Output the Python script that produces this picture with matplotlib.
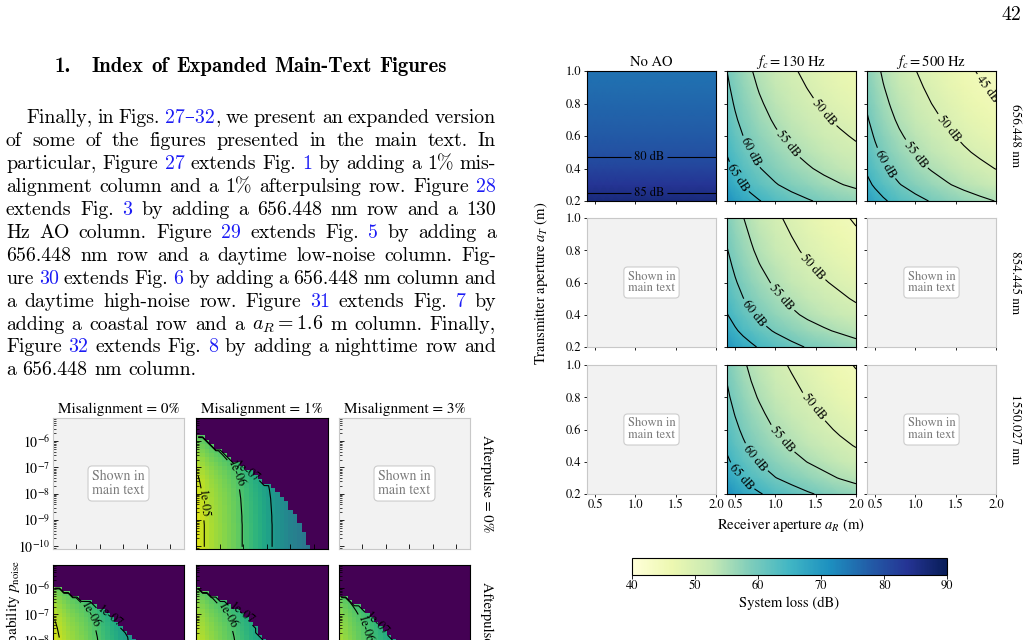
import re

import matplotlib

matplotlib.use("Agg")
import matplotlib.pyplot as plt
import numpy as np
from matplotlib.cm import ScalarMappable
from matplotlib.colors import Normalize
from matplotlib.ticker import FixedLocator, FuncFormatter, NullFormatter

W, H = 1028, 640

# ---------------- page text ----------------
heading_num = "1."
heading = "Index of Expanded Main-Text Figures"
page_number = "42"
# words in {} are blue cross-references
body_lines = [
    "Finally, in Figs. {27–32}, we present an expanded version",
    "of some of the figures presented in the main text. In",
    "particular, Figure {27} extends Fig. {1} by adding a 1% mis-",
    "alignment column and a 1% afterpulsing row. Figure {28}",
    "extends Fig. {3} by adding a 656.448 nm row and a 130",
    "Hz AO column. Figure {29} extends Fig. {5} by adding a",
    "656.448 nm row and a daytime low-noise column. Fig-",
    "ure {30} extends Fig. {6} by adding a 656.448 nm column and",
    "a daytime high-noise row. Figure {31} extends Fig. {7} by",
    "adding a coastal row and a $a_R=1.6$ m column. Finally,",
    "Figure {32} extends Fig. {8} by adding a nighttime row and",
    "a 656.448 nm column.",
]

# ---------------- right figure: system loss (dB) ----------------
a_r = [0.4, 0.5, 0.6, 0.7, 0.8, 1.0, 1.2, 1.4, 1.6, 1.8, 2.0]
a_t = [0.2, 0.3, 0.4, 0.5, 0.6, 0.7, 0.8, 0.9, 1.0]

# loss along a_R at a_T = 1.0
loss_656_130 = [60.0, 58.1, 56.5, 55.2, 54.0, 52.1, 50.5, 49.2, 48.0, 47.0, 46.1]
loss_656_500 = [58.0, 56.1, 54.5, 53.2, 52.0, 50.1, 48.5, 47.1, 45.8, 44.7, 43.7]
loss_854_130 = [58.6, 56.7, 55.1, 53.8, 52.6, 50.7, 49.1, 47.7, 46.6, 45.6, 44.6]
loss_1550_130 = [59.1, 57.2, 55.6, 54.2, 53.1, 51.1, 49.6, 48.2, 47.0, 45.8, 44.8]
# extra loss along a_T (relative to a_T = 1.0)
extra_656 = [11.2, 8.2, 6.2, 4.7, 3.5, 2.4, 1.5, 0.7, 0.0]
extra_854 = [12.0, 8.9, 6.6, 5.0, 3.7, 2.6, 1.6, 0.8, 0.0]
extra_1550 = [12.3, 9.0, 6.7, 5.0, 3.7, 2.6, 1.6, 0.8, 0.0]
# without AO the loss only changes with a_T
loss_656_noao = [86.3, 83.6, 81.3, 79.4, 78.2, 77.2, 76.4, 75.7, 75.0]

col_titles = ["No AO", "$f_c = 130$ Hz", "$f_c = 500$ Hz"]
row_titles = ["656.448 nm", "854.445 nm", "1550.027 nm"]

# ---------------- left figure: log10 key rate ----------------
# per distance column: highest log10 p_noise that still gives a key
edge_m1_a0 = [-5.75, -5.86, -5.97, -6.09, -6.23, -6.34, -6.49, -6.60, -6.71, -6.83,
              -6.94, -7.05, -7.16, -7.27, -7.38, -7.53, -7.68, -7.83, -7.99, -8.14,
              -8.32, -8.54, -8.77, -9.03, -9.36, -9.90, -11, -11, -11, -11]
edge_m0_a1 = [-5.93, -6.00, -6.07, -6.14, -6.21, -6.29, -6.37, -6.45, -6.53, -6.63,
              -6.74, -6.86, -6.98, -7.11, -7.25, -7.40, -7.58, -7.78, -8.00, -8.25,
              -8.55, -8.90, -9.30, -9.80, -11, -11, -11, -11, -11, -11]
edge_m1_a1 = [-5.97, -6.05, -6.13, -6.22, -6.31, -6.40, -6.49, -6.60, -6.72, -6.85,
              -7.00, -7.15, -7.32, -7.50, -7.70, -7.92, -8.15, -8.40, -8.70, -9.00,
              -9.35, -9.75, -11, -11, -11, -11, -11, -11, -11, -11]
edge_m3_a1 = [-6.23, -6.33, -6.44, -6.56, -6.68, -6.80, -6.93, -7.07, -7.22, -7.38,
              -7.55, -7.73, -7.93, -8.15, -8.40, -8.70, -9.00, -9.40, -9.80, -11,
              -11, -11, -11, -11, -11, -11, -11, -11, -11, -11]
# log10 key rate per column at the lowest p_noise
rate_m1_a0 = [-4.80, -4.95, -5.08, -5.20, -5.30, -5.40, -5.50, -5.60, -5.72, -5.85,
              -6.00, -6.15, -6.28, -6.42, -6.56, -6.72, -6.88, -7.03, -7.17, -7.30,
              -7.42, -7.53, -7.63, -7.72, -7.80, -7.88, -7.95, -8.00, -8.05, -8.10]
rate_m0_a1 = [-4.78, -4.92, -5.05, -5.17, -5.28, -5.38, -5.48, -5.58, -5.70, -5.82,
              -5.96, -6.10, -6.24, -6.38, -6.52, -6.67, -6.82, -6.97, -7.11, -7.24,
              -7.36, -7.47, -7.57, -7.66, -7.74, -7.82, -7.90, -7.96, -8.02, -8.08]
rate_m1_a1 = [-4.95, -5.09, -5.22, -5.34, -5.45, -5.55, -5.66, -5.77, -5.89, -6.02,
              -6.16, -6.30, -6.44, -6.58, -6.72, -6.86, -7.00, -7.13, -7.25, -7.36,
              -7.46, -7.55, -7.63, -7.70, -7.77, -7.83, -7.89, -7.94, -7.99, -8.04]
rate_m3_a1 = [-5.20, -5.33, -5.46, -5.58, -5.70, -5.82, -5.94, -6.06, -6.19, -6.32,
              -6.46, -6.60, -6.74, -6.88, -7.01, -7.13, -7.24, -7.34, -7.43, -7.51,
              -7.58, -7.64, -7.70, -7.75, -7.80, -7.85, -7.90, -7.94, -7.98, -8.02]
# drop of log10 key rate going up the p_noise rows
rate_drop = [0, 0, 0, 0, 0, 0, -0.01, -0.01, -0.02, -0.03, -0.04, -0.05, -0.07, -0.09,
             -0.12, -0.15, -0.19, -0.24, -0.30, -0.37, -0.45, -0.54, -0.64, -0.75,
             -0.87, -1.00, -1.15, -1.30, -1.50, -1.70]

mis_titles = ["Misalignment = 0%", "Misalignment = 1%", "Misalignment = 3%"]
after_titles = ["Afterpulse = 0%", "Afterpulse = 1%"]

plt.rcParams["font.family"] = ["STIXGeneral", "DejaVu Serif"]
plt.rcParams["mathtext.fontset"] = "stix"

fig = plt.figure(figsize=(W / 100, H / 100), dpi=100)
renderer = fig.canvas.get_renderer()


def fig_xy(x, y):
    return x / W, 1 - y / H


def px_axes(x0, y0, x1, y1):
    return fig.add_axes([x0 / W, 1 - y1 / H, (x1 - x0) / W, (y1 - y0) / H])


# ---------------- text column ----------------
BODY = ["cmr10", "DejaVu Serif"]
BOLD = ["cmb10", "DejaVu Serif"]
LINK = "#1c1cf5"


def parse_word(word):
    parts = []
    for piece in re.split(r"(\{[^}]*\})", word):
        if not piece:
            continue
        if piece.startswith("{"):
            parts.append((piece[1:-1], LINK))
        else:
            parts.append((piece, "black"))
    return parts


def lay_words(words, x0, y, fs, family, x1=None, space=0.333):
    placed = []
    for word in words:
        off = 0
        items = []
        for s, c in parse_word(word):
            t = fig.text(0, 0, s, fontsize=fs, color=c, family=family,
                         math_fontfamily="cm", va="baseline", ha="left")
            items.append((t, off))
            off += t.get_window_extent(renderer).width
        placed.append((items, off))
    total = sum(w for _, w in placed)
    if x1 is None:
        gap = space * fs * 100 / 72
    else:
        gap = (x1 - x0 - total) / max(len(placed) - 1, 1)
    x = x0
    for items, w in placed:
        for t, off in items:
            t.set_position(fig_xy(x + off, y))
        x += w + gap
    return total


# heading: size chosen so that the words plus normal bold spaces span x=92..447
probe = fig.text(0, 0, heading.replace(" ", ""), fontsize=10, family=BOLD)
probe_w = probe.get_window_extent(renderer).width / 10
probe.remove()
n_gaps = len(heading.split()) - 1
head_fs = (447 - 92) / (probe_w + n_gaps * 0.383 * 100 / 72)
lay_words([heading_num], 55, 72, head_fs, BOLD)
lay_words(heading.split(), 92, 72, head_fs, BOLD, x1=447)

body_fs = 14.3
fig.text(*fig_xy(1021, 20), page_number, fontsize=body_fs, family=BODY,
         ha="right", va="baseline")
for i, line in enumerate(body_lines):
    x0 = 26 if i == 0 else 6
    x1 = None if i == len(body_lines) - 1 else 496
    lay_words(line.split(), x0, 123 + 22.95 * i, body_fs, BODY, x1=x1)


# ---------------- right figure ----------------
def placeholder(ax, fs=9):
    ax.set_facecolor("#f2f2f2")
    for s in ax.spines.values():
        s.set_edgecolor("#c8c8c8")
    ax.text(0.5, 0.5, "Shown in\nmain text", transform=ax.transAxes, ha="center",
            va="center", fontsize=fs, color="#7a7a7a", linespacing=1.0,
            bbox=dict(boxstyle="round,pad=0.3", fc="white", ec="#cccccc", lw=0.8))


loss_norm = Normalize(40, 90)
loss_cmap = plt.get_cmap("YlGnBu")

noao_grid = np.repeat(np.array(loss_656_noao)[:, None], len(a_r), axis=1)
panels = {
    (0, 0): (noao_grid, [80, 85], [(1.17, 0.46), (1.17, 0.245)]),
    (0, 1): (np.add.outer(extra_656, loss_656_130), [45, 50, 55, 60, 65],
             [(1.55, 0.72), (1.10, 0.53), (0.64, 0.49), (0.52, 0.34)]),
    (0, 2): (np.add.outer(extra_656, loss_656_500), [45, 50, 55, 60, 65],
             [(1.82, 0.86), (1.35, 0.62), (0.97, 0.47), (0.56, 0.41)]),
    (1, 1): (np.add.outer(extra_854, loss_854_130), [45, 50, 55, 60, 65],
             [(1.43, 0.68), (1.06, 0.50), (0.68, 0.39)]),
    (2, 1): (np.add.outer(extra_1550, loss_1550_130), [45, 50, 55, 60, 65],
             [(1.45, 0.73), (1.08, 0.54), (0.77, 0.43), (0.56, 0.30)]),
}

col_x = [(587, 716), (727, 856), (867, 996)]
row_y = [(71, 201), (218, 347), (365, 494)]
for r, (y0, y1) in enumerate(row_y):
    for c, (x0, x1) in enumerate(col_x):
        ax = px_axes(x0, y0, x1, y1)
        ax.set_xlim(0.4, 2.0)
        ax.set_ylim(0.2, 1.0)
        ax.set_xticks([0.5, 1.0, 1.5, 2.0])
        ax.set_yticks([0.2, 0.4, 0.6, 0.8, 1.0])
        ax.tick_params(direction="out", length=2.5, width=0.6, labelsize=9, pad=1.5,
                       labelleft=(c == 0), labelbottom=(r == 2))
        if (r, c) in panels:
            grid, levels, spots = panels[(r, c)]
            ax.pcolormesh(a_r, a_t, grid, cmap=loss_cmap, norm=loss_norm,
                          shading="gouraud")
            cs = ax.contour(a_r, a_t, grid, levels=levels, colors="k", linewidths=0.8)
            ax.clabel(cs, manual=spots, fmt=lambda v: f"{v:.0f} dB", fontsize=9,
                      inline=True, inline_spacing=3)
            for s in ax.spines.values():
                s.set_linewidth(0.8)
        else:
            placeholder(ax)
        if r == 0:
            fig.text(*fig_xy((x0 + x1) / 2, 66), col_titles[c], fontsize=10.5,
                     ha="center", va="baseline")
    fig.text(*fig_xy(1015, (y0 + y1) / 2), row_titles[r], fontsize=9.5,
             rotation=-90, ha="center", va="center")

fig.text(*fig_xy(541, 283), "Transmitter aperture $a_T$ (m)", fontsize=10.5,
         rotation=90, ha="center", va="center")
fig.text(*fig_xy(791, 529), "Receiver aperture $a_R$ (m)", fontsize=10.5,
         ha="center", va="baseline")

cax = px_axes(632, 558, 947, 575)
cb = fig.colorbar(ScalarMappable(loss_norm, loss_cmap), cax=cax,
                  orientation="horizontal")
cb.set_ticks([40, 50, 60, 70, 80, 90])
cb.ax.tick_params(labelsize=9, length=3, width=0.6, pad=1)
cb.set_label("System loss (dB)", fontsize=10.5, labelpad=3)
cb.outline.set_linewidth(0.8)

# ---------------- left figure ----------------
p_lo, p_hi = -10.1, -5.12
n_cells = len(rate_drop)
x_edges = np.linspace(0, 5.6, n_cells + 1)
p_edges = np.linspace(p_lo, p_hi, n_cells + 1)
x_mid = (x_edges[:-1] + x_edges[1:]) / 2
p_mid = (p_edges[:-1] + p_edges[1:]) / 2
rate_norm = Normalize(-10, -4.5)
rate_fmt = {-7: "1e-07", -6: "1e-06", -5: "1e-05"}

heat = {
    (0, 1): (edge_m1_a0, rate_m1_a0, [(0.3, -8.4), (1.37, -7.35), (2.1, -7.36)]),
    (1, 0): (edge_m0_a1, rate_m0_a1, [(0.15, -8.5), (1.45, -7.1), (2.14, -7.3)]),
    (1, 1): (edge_m1_a1, rate_m1_a1, [(1.15, -7.14), (1.88, -7.0)]),
    (1, 2): (edge_m3_a1, rate_m3_a1, [(0.6, -7.67), (1.62, -7.33)]),
}

left_x = [(53, 184), (196, 328), (339, 470)]
left_y = [(418, 549), (565, 696)]
minors = [np.log10(k) + e for e in range(-11, -4) for k in range(2, 10)]
for r, (y0, y1) in enumerate(left_y):
    for c, (x0, x1) in enumerate(left_x):
        ax = px_axes(x0, y0, x1, y1)
        ax.set_xlim(0, 5.6)
        ax.set_ylim(p_lo, p_hi)
        ax.set_xticks(range(6))
        ax.xaxis.set_major_formatter(NullFormatter())
        ax.yaxis.set_major_locator(FixedLocator([-10, -9, -8, -7, -6]))
        ax.yaxis.set_minor_locator(FixedLocator(minors))
        if c == 0:
            ax.yaxis.set_major_formatter(
                FuncFormatter(lambda v, _: f"$10^{{{int(round(v))}}}$"))
        else:
            ax.yaxis.set_major_formatter(NullFormatter())
        ax.tick_params(which="major", direction="in", length=3.5, width=0.6,
                       labelsize=10, pad=2)
        ax.tick_params(which="minor", direction="in", length=1.8, width=0.5)
        if (r, c) in heat:
            edge, rate, spots = heat[(r, c)]
            field = np.add.outer(rate_drop, rate)
            valid = p_mid[:, None] <= np.array(edge)[None, :]
            ax.pcolormesh(x_edges, p_edges, np.where(valid, field, -10),
                          cmap="viridis", norm=rate_norm)
            cs = ax.contour(x_mid, p_mid, np.where(valid, field, -12),
                            levels=[-7, -6, -5], colors="k", linewidths=0.8,
                            linestyles="solid")
            ax.clabel(cs, manual=spots, fmt=rate_fmt, fontsize=9, inline=True,
                      inline_spacing=2)
        else:
            placeholder(ax, fs=10)
        if r == 0:
            fig.text(*fig_xy((x0 + x1) / 2, 413), mis_titles[c], fontsize=11,
                     ha="center", va="baseline")
    fig.text(*fig_xy(487, (y0 + y1) / 2), after_titles[r], fontsize=10.5,
             rotation=-90, ha="center", va="center")

fig.text(*fig_xy(13, 560), r"Noise probability $p_\mathrm{noise}$", fontsize=11,
         rotation=90, ha="center", va="top")

fig.savefig("out.png", dpi=100)
